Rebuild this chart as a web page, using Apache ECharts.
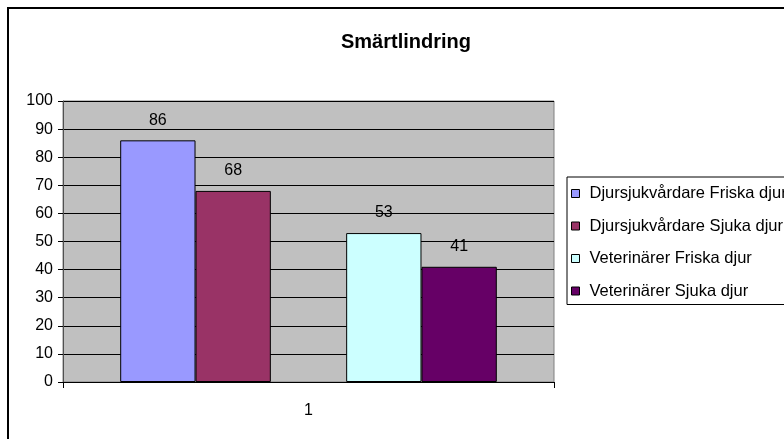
<!DOCTYPE html>
<html>
<head>
<meta charset="utf-8">
<title>Smärtlindring</title>
<script src="https://cdn.jsdelivr.net/npm/echarts@6/dist/echarts.min.js"></script>
<style>
  html, body { margin: 0; padding: 0; background: #fff; }
  #chart { width: 784px; height: 439px; }
</style>
</head>
<body>
<div id="chart"></div>
<script>
// Category and values
var categories = ['1'];
var seriesNames = [
  'Djursjukvårdare Friska djur',
  'Djursjukvårdare Sjuka djur',
  'Veterinärer Friska djur',
  'Veterinärer Sjuka djur'
];
var djursjukFriska = [86];
var djursjukSjuka = [68];
var vetFriska = [53];
var vetSjuka = [41];
var yTicks = { min: 0, max: 100, interval: 10 };

var colors = ['#9999FF', '#993366', '#CCFFFF', '#660066'];
var FONT = '"Liberation Sans", Arial, sans-serif';

function barSeries(name, data, color) {
  return {
    name: name,
    type: 'bar',
    data: data,
    barGap: '0%',
    barCategoryGap: '23.3%',
    itemStyle: { color: color, borderColor: '#000', borderWidth: 1 },
    label: {
      show: true,
      position: 'top',
      distance: 12,
      color: '#000',
      fontSize: 16,
      fontFamily: FONT
    },
    emphasis: { disabled: true }
  };
}

var chart = echarts.init(document.getElementById('chart'), null, { renderer: 'canvas' });

chart.setOption({
  animation: false,
  backgroundColor: '#fff',
  title: {
    text: 'Smärtlindring',
    left: 401,
    textAlign: 'center',
    top: 27,
    textStyle: { fontFamily: FONT, fontWeight: 'bold', fontSize: 20, color: '#000' }
  },
  legend: {
    data: seriesNames,
    orient: 'vertical',
    left: 567,
    top: 177,
    padding: [8, 30, 5, 4],
    itemGap: 15.5,
    itemWidth: 8,
    itemHeight: 8,
    icon: 'rect',
    borderColor: '#000',
    borderWidth: 1,
    backgroundColor: '#fff',
    itemStyle: { borderColor: '#000', borderWidth: 1 },
    textStyle: { fontFamily: FONT, fontSize: 16.5, color: '#000', padding: [0, 0, 0, 5] },
    selectedMode: false
  },
  grid: {
    left: 63,
    right: 230,
    top: 101,
    bottom: 57,
    show: true,
    backgroundColor: '#C0C0C0',
    borderColor: '#808080',
    borderWidth: 1
  },
  xAxis: {
    type: 'category',
    data: categories,
    axisLine: { lineStyle: { color: '#000', width: 1 } },
    axisTick: { show: true, length: 6, lineStyle: { color: '#000' } },
    axisLabel: { margin: 21, fontFamily: FONT, fontSize: 16, color: '#000' }
  },
  yAxis: {
    type: 'value',
    min: yTicks.min,
    max: yTicks.max,
    interval: yTicks.interval,
    axisLine: { show: true, lineStyle: { color: '#505050', width: 1 } },
    axisTick: { show: true, length: 5, lineStyle: { color: '#000' } },
    axisLabel: { margin: 10, fontFamily: FONT, fontSize: 16, color: '#000' },
    splitLine: { show: true, lineStyle: { color: '#000', width: 1 } }
  },
  graphic: [{
    type: 'rect',
    shape: { x: 8, y: 8, width: 820, height: 460 },
    style: { fill: null, stroke: '#000', lineWidth: 2 },
    silent: true,
    z: 100
  }],
  series: [
    barSeries(seriesNames[0], djursjukFriska, colors[0]),
    barSeries(seriesNames[1], djursjukSjuka, colors[1]),
    // empty column between the two groups
    { name: 'tom', type: 'bar', data: [null], barGap: '0%', barCategoryGap: '23.3%', silent: true },
    barSeries(seriesNames[2], vetFriska, colors[2]),
    barSeries(seriesNames[3], vetSjuka, colors[3])
  ]
});
</script>
</body>
</html>
